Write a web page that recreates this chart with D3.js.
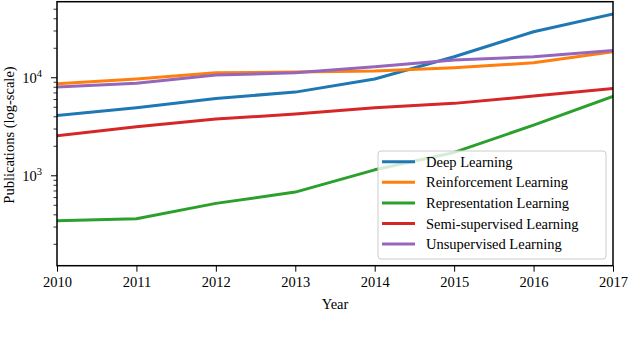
<!DOCTYPE html>
<html>
<head>
<meta charset="utf-8">
<script src="https://cdn.jsdelivr.net/npm/d3@7"></script>
<style>
  body { margin: 0; background: #fff; }
  svg { display: block; font-family: "Liberation Serif", serif; }
</style>
</head>
<body>
<div id="chart"></div>
<script>
const years = [2010, 2011, 2012, 2013, 2014, 2015, 2016, 2017];
const seriesNames = ["Deep Learning", "Reinforcement Learning", "Representation Learning", "Semi-supervised Learning", "Unsupervised Learning"];
const deepLearning = [4130, 4940, 6160, 7140, 9700, 16400, 29500, 44700];
const reinforcementLearning = [8690, 9700, 11250, 11430, 11700, 12650, 14200, 18400];
const representationLearning = [347, 364, 523, 682, 1150, 1730, 3290, 6450];
const semiSupervisedLearning = [2560, 3160, 3790, 4270, 4940, 5480, 6500, 7750];
const unsupervisedLearning = [8040, 8770, 10660, 11250, 12950, 15150, 16370, 19000];
const colors = ["#1f77b4", "#ff7f0e", "#2ca02c", "#d62728", "#9467bd"];
const yMajorTicks = [1000, 10000];

const seriesValues = [deepLearning, reinforcementLearning, representationLearning, semiSupervisedLearning, unsupervisedLearning];

const width = 640, height = 342;
const margin = { top: 1.7, right: 27, bottom: 76.3, left: 57 };

const svg = d3.select("#chart").append("svg")
  .attr("width", width)
  .attr("height", height);

const x = d3.scaleLinear()
  .domain([2010, 2017])
  .range([margin.left, width - margin.right]);

const y = d3.scaleLog()
  .domain([121, 59700])
  .range([height - margin.bottom, margin.top]);

// minor ticks
const minorTicks = [];
[100, 1000, 10000].forEach(base => {
  for (let k = 2; k <= 9; k++) {
    const v = base * k;
    if (v >= y.domain()[0] && v <= y.domain()[1]) minorTicks.push(v);
  }
});

svg.append("g")
  .selectAll("line")
  .data(minorTicks)
  .enter().append("line")
  .attr("x1", margin.left - 3.5).attr("x2", margin.left)
  .attr("y1", d => y(d)).attr("y2", d => y(d))
  .attr("stroke", "#000").attr("stroke-width", 0.8);

// major y ticks + labels
const yMaj = svg.append("g");
yMaj.selectAll("line")
  .data(yMajorTicks)
  .enter().append("line")
  .attr("x1", margin.left - 6).attr("x2", margin.left)
  .attr("y1", d => y(d)).attr("y2", d => y(d))
  .attr("stroke", "#000").attr("stroke-width", 1);

const yLabels = yMaj.selectAll("text")
  .data(yMajorTicks)
  .enter().append("text")
  .attr("x", margin.left - 15)
  .attr("y", d => y(d) + 5)
  .attr("text-anchor", "end")
  .attr("font-size", 14.5);
yLabels.append("tspan").text("10");
yLabels.append("tspan")
  .attr("font-size", 10.5)
  .attr("dy", -6)
  .text(d => Math.round(Math.log10(d)));

// x axis
const xAxis = svg.append("g")
  .attr("transform", `translate(0,${height - margin.bottom})`)
  .call(d3.axisBottom(x).tickValues(years).tickFormat(d3.format("d")).tickSize(6).tickPadding(5));
xAxis.select(".domain").remove();
xAxis.selectAll("line").attr("stroke-width", 1);
xAxis.selectAll("text").attr("font-size", 14.5).attr("font-family", "Liberation Serif, serif").attr("fill", "#000");

// lines
const line = d3.line()
  .x((d, i) => x(years[i]))
  .y(d => y(d));

svg.append("defs").append("clipPath").attr("id", "clip")
  .append("rect")
  .attr("x", margin.left).attr("y", margin.top)
  .attr("width", width - margin.left - margin.right)
  .attr("height", height - margin.top - margin.bottom);

svg.append("g").attr("clip-path", "url(#clip)")
  .selectAll("path")
  .data(seriesValues)
  .enter().append("path")
  .attr("d", d => line(d))
  .attr("fill", "none")
  .attr("stroke", (d, i) => colors[i])
  .attr("stroke-width", 3)
  .attr("stroke-linejoin", "round")
  .attr("stroke-linecap", "square");

// frame
svg.append("rect")
  .attr("x", margin.left).attr("y", margin.top)
  .attr("width", width - margin.left - margin.right)
  .attr("height", height - margin.top - margin.bottom)
  .attr("fill", "none")
  .attr("stroke", "#000")
  .attr("stroke-width", 1.5);

// axis titles
svg.append("text")
  .attr("x", (margin.left + width - margin.right) / 2)
  .attr("y", 308.5)
  .attr("text-anchor", "middle")
  .attr("font-size", 14.5)
  .text("Year");

svg.append("text")
  .attr("transform", "translate(14,135) rotate(-90)")
  .attr("text-anchor", "middle")
  .attr("font-size", 14.5)
  .text("Publications (log-scale)");

// legend
const legend = svg.append("g");
legend.append("rect")
  .attr("x", 378).attr("y", 151)
  .attr("width", 228).attr("height", 108)
  .attr("rx", 3)
  .attr("fill", "#fff").attr("fill-opacity", 0.8)
  .attr("stroke", "#ccc").attr("stroke-width", 1);

const rows = legend.selectAll("g.row")
  .data(seriesNames)
  .enter().append("g")
  .attr("class", "row")
  .attr("transform", (d, i) => `translate(0,${161.7 + i * 20.6})`);
rows.append("line")
  .attr("x1", 382).attr("x2", 415)
  .attr("stroke", (d, i) => colors[i])
  .attr("stroke-width", 3);
rows.append("text")
  .attr("x", 426)
  .attr("y", 5)
  .attr("font-size", 14.5)
  .text(d => d);
</script>
</body>
</html>
